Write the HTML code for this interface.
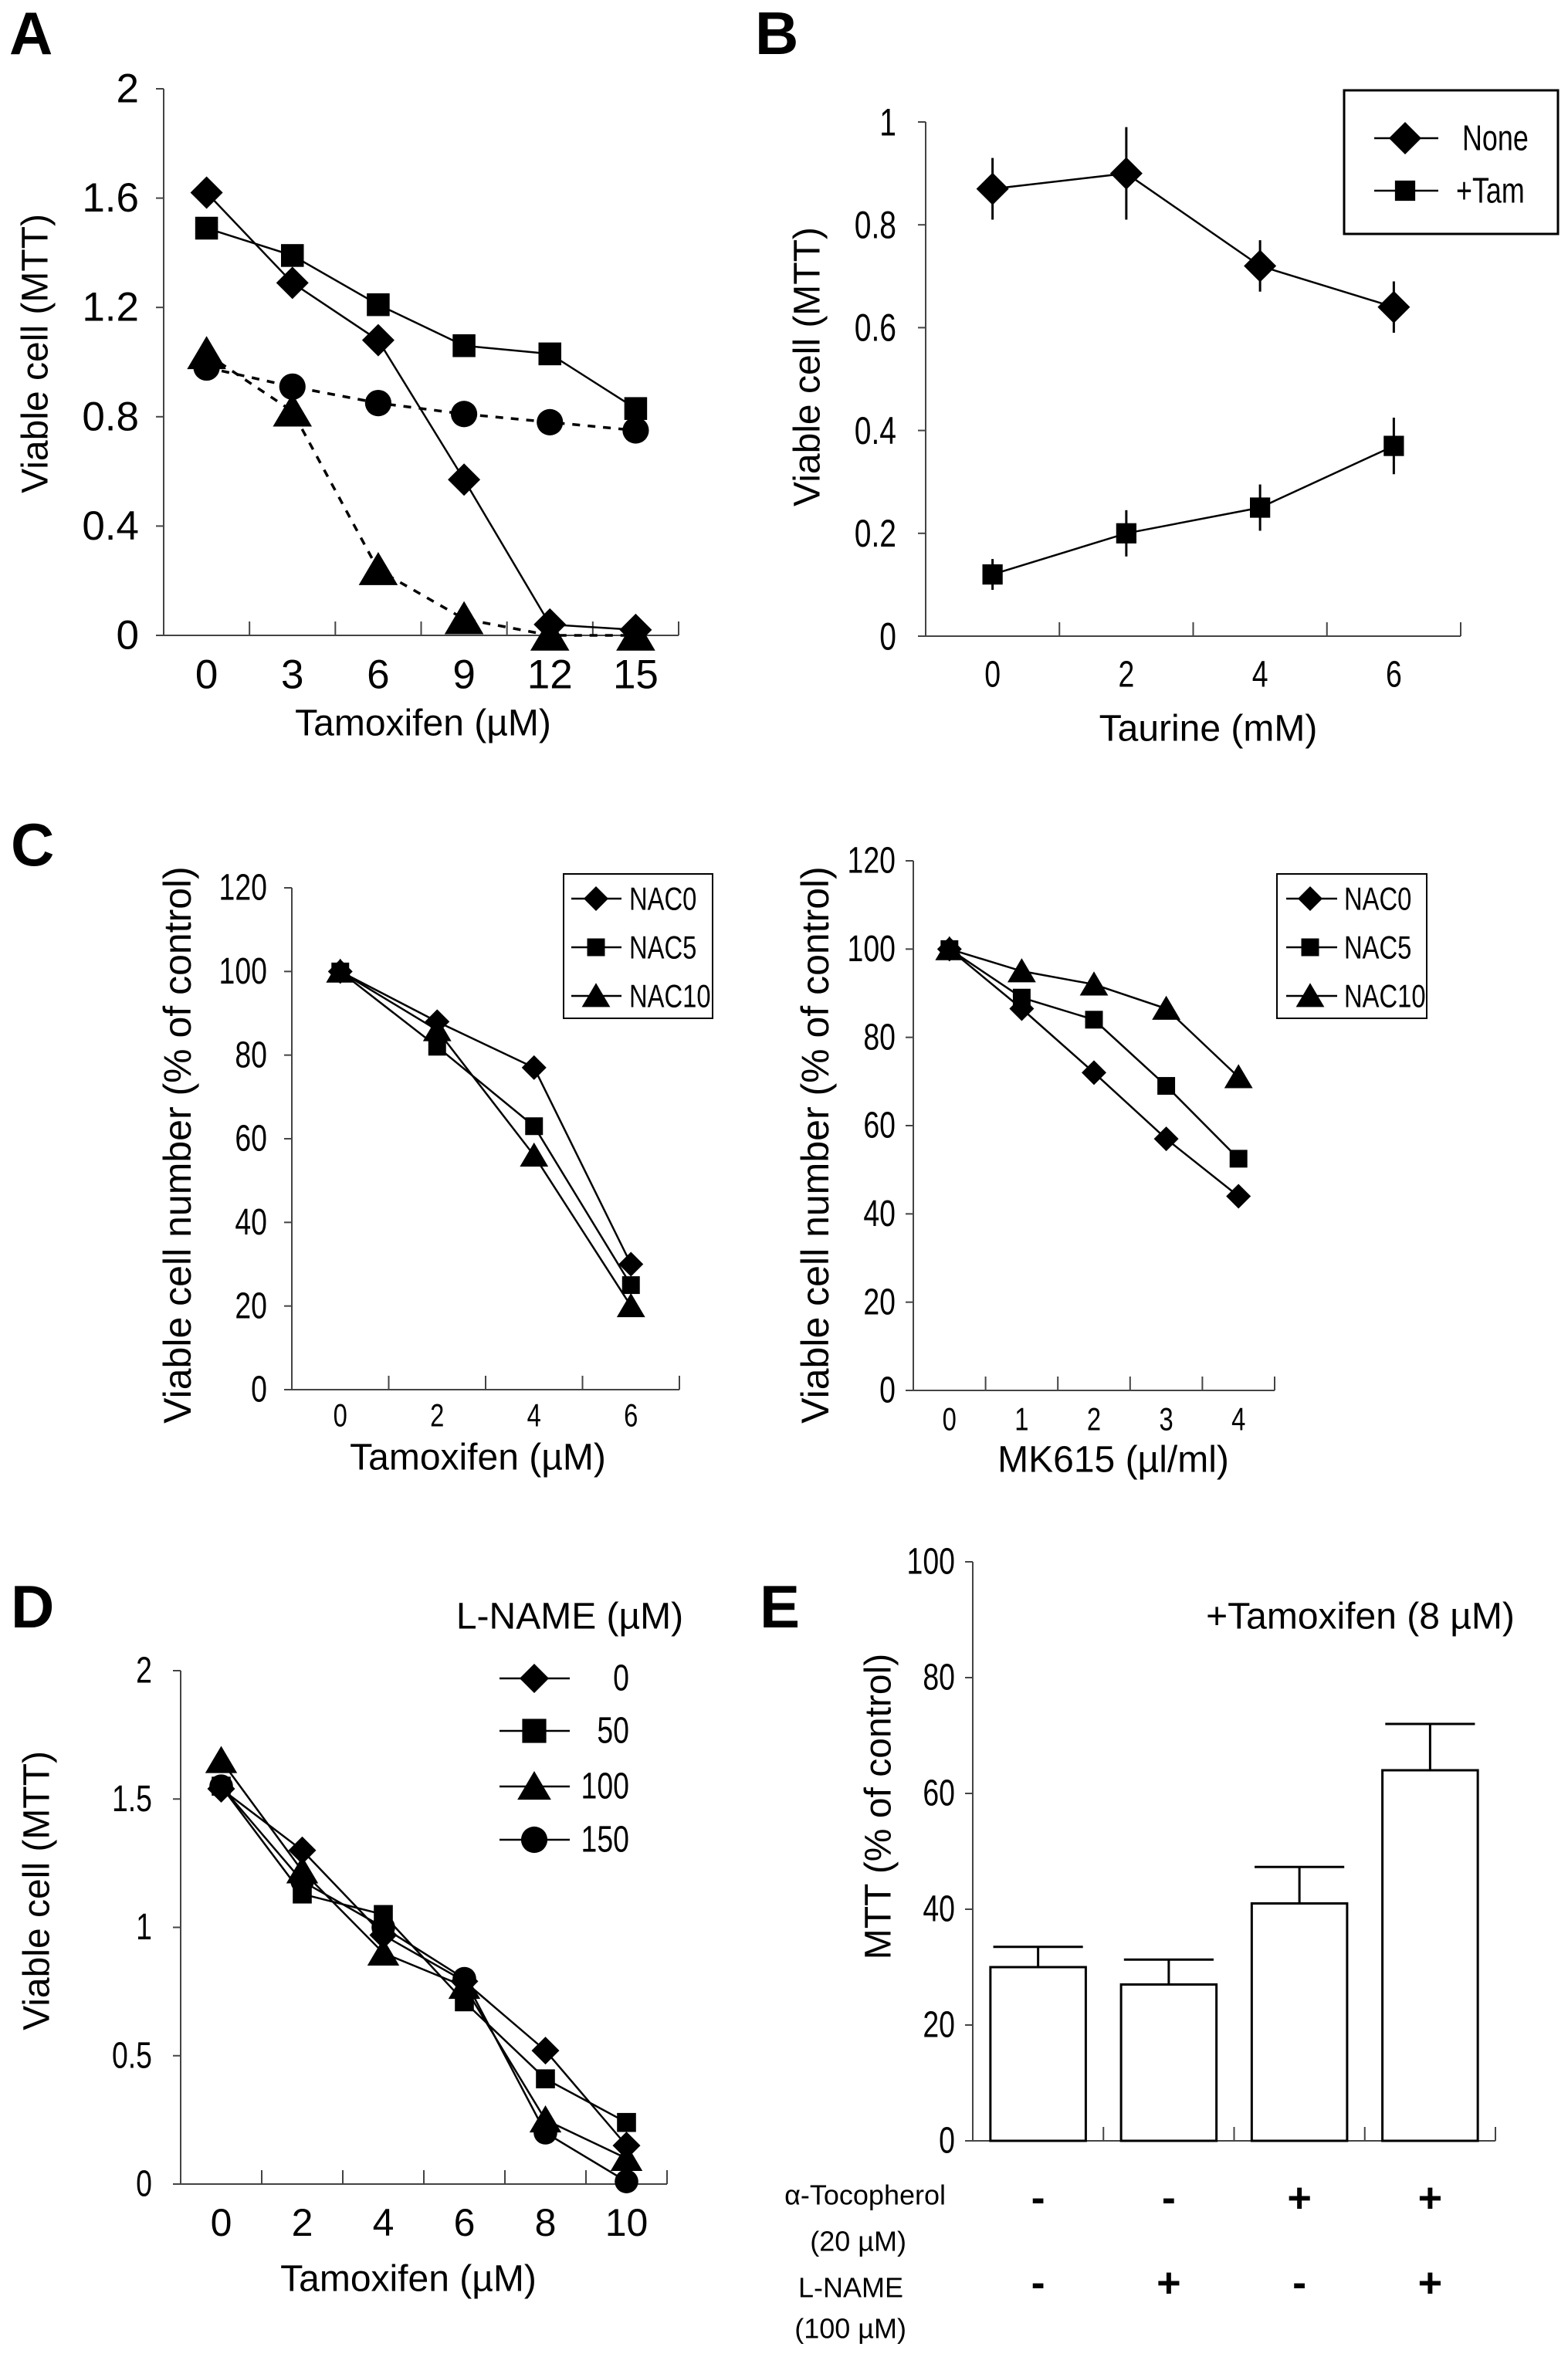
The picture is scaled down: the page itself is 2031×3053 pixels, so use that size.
<!DOCTYPE html>
<html><head><meta charset="utf-8"><style>
html,body{margin:0;padding:0;background:#fff;}
svg{display:block;}
text{font-family:"Liberation Sans",sans-serif;fill:#000;}
</style></head><body>
<svg id="fig" width="2031" height="3053" viewBox="0 0 2031 3053" xmlns="http://www.w3.org/2000/svg"></svg>
<script>
// ---- Panel A data ----
const aCats = ["0","3","6","9","12","15"];
const aDiamond = [1.62,1.29,1.08,0.57,0.04,0.02];
const aSquare = [1.49,1.39,1.21,1.06,1.03,0.83];
const aTriangle = [1.03,0.82,0.24,0.06,0.0,0.0];
const aCircle = [0.98,0.91,0.85,0.81,0.78,0.75];
const aTicks = ["0","0.4","0.8","1.2","1.6","2"];
// ---- Panel B data ----
const bCats = ["0","2","4","6"];
const bNone = [0.87,0.90,0.72,0.64];
const bNoneErr = [0.06,0.09,0.05,0.05];
const bTam = [0.12,0.20,0.25,0.37];
const bTamErr = [0.03,0.045,0.045,0.055];
const bTicks = ["0","0.2","0.4","0.6","0.8","1"];
// ---- Panel C left ----
const cLCats = ["0","2","4","6"];
const cLNac0 = [100,88,77,30];
const cLNac5 = [100,82,63,25];
const cLNac10 = [100,86,56,20];
// ---- Panel C right ----
const cRCats = ["0","1","2","3","4"];
const cRNac0 = [100,86.5,72,57,44];
const cRNac5 = [100,89,84,69,52.5];
const cRNac10 = [100,95,92,86.5,71];
const cTicks = ["0","20","40","60","80","100","120"];
// ---- Panel D ----
const dCats = ["0","2","4","6","8","10"];
const d0 = [1.54,1.30,0.97,0.79,0.52,0.15];
const d50 = [1.55,1.13,1.05,0.71,0.41,0.24];
const d100 = [1.65,1.22,0.90,0.77,0.25,0.10];
const d150 = [1.55,1.18,1.00,0.80,0.20,0.01];
const dTicks = ["0","0.5","1","1.5","2"];
const dLegend = ["0","50","100","150"];
// ---- Panel E ----
const eVals = [30,27,41,64];
const eErr = [3.5,4.3,6.3,8];
const eToco = ["-","-","+","+"];
const eLname = ["-","+","-","+"];
const eTicks = ["0","20","40","60","80","100"];

const NS="http://www.w3.org/2000/svg";
const svg=document.getElementById('fig');
function mk(tag,attrs,parent){const e=document.createElementNS(NS,tag);for(const k in attrs)e.setAttribute(k,attrs[k]);(parent||svg).appendChild(e);return e;}
function txt(s,x,y,size,anchor,cls,extra){const e=mk('text',Object.assign({x:x,y:y,'font-size':size,'text-anchor':anchor||'middle','dominant-baseline':'central'},extra||{}));
 if(cls==='n')e.setAttribute('transform',`translate(${x} ${y}) scale(0.78 1) translate(${-x} ${-y})`);
 e.textContent=s;return e;}
function marker(shape,cx,cy,s){let e;
 if(shape==='diamond')e=mk('polygon',{points:`${cx},${cy-s} ${cx+s},${cy} ${cx},${cy+s} ${cx-s},${cy}`,fill:'#000'});
 else if(shape==='square')e=mk('rect',{x:cx-s*0.82,y:cy-s*0.82,width:s*1.64,height:s*1.64,fill:'#000'});
 else if(shape==='triangle')e=mk('polygon',{points:`${cx},${cy-s*1.05} ${cx+s*1.15},${cy+s*0.9} ${cx-s*1.15},${cy+s*0.9}`,fill:'#000'});
 else e=mk('circle',{cx:cx,cy:cy,r:s*0.9,fill:'#000'});
 return e;}
function axes(g){
 const yOf=v=>g.yBot-(v-g.min)/(g.max-g.min)*(g.yBot-g.yTop);
 const xOf=i=>g.x0+(i+0.5)*(g.xEnd-g.x0)/g.n;
 let e=mk('line',{x1:g.x0,y1:g.yTop,x2:g.x0,y2:g.yBot,stroke:'#444','stroke-width':2});
 
 
 e=mk('line',{x1:g.x0,y1:g.yBot,x2:g.xEnd,y2:g.yBot,stroke:'#444','stroke-width':2});
 
 
 for(let k=1;k<=g.n;k++){const x=g.x0+k*(g.xEnd-g.x0)/g.n;mk('line',{x1:x,y1:g.yBot,x2:x,y2:g.yBot-18,stroke:'#444','stroke-width':2});}
 g.ticks.forEach((t,i)=>{const v=g.min+i*(g.max-g.min)/(g.ticks.length-1);const y=yOf(v);
  mk('line',{x1:g.x0-10,y1:y,x2:g.x0,y2:y,stroke:'#444','stroke-width':2});
  const l=txt(t,g.tickRight,y,g.tickSize,'end',g.tickCls);
  
  });
 if(g.cats)g.cats.forEach((c,i)=>{const l=txt(c,xOf(i),g.catY,g.catSize,'middle',g.catCls);
  
  });
 return {xOf,yOf};}
function series(ax,vals,shape,size,dash,name,errs){
 const pts=vals.map((v,i)=>`${ax.xOf(i)},${ax.yOf(v)}`).join(' ');
 const pl=mk('polyline',{points:pts,fill:'none',stroke:'#000','stroke-width':2.5});
 if(dash){pl.setAttribute('stroke-dasharray','10 10');pl.setAttribute('stroke-width',3.5);}
 
 
 vals.forEach((v,i)=>{
  if(errs){const el=mk('line',{x1:ax.xOf(i),x2:ax.xOf(i),y1:ax.yOf(v-errs[i]),y2:ax.yOf(v+errs[i]),stroke:'#000','stroke-width':3});
   
   }
  const m=marker(shape,ax.xOf(i),ax.yOf(v),size);
  
  });}
function legendEntry(shape,x1,x2,mx,y,size,label,tx,fs,anchor,cls){
 mk('line',{x1:x1,x2:x2,y1:y,y2:y,stroke:'#000','stroke-width':2.5});
 marker(shape,mx,y,size);
 const t=txt(label,tx,y,fs,anchor||'start',cls);
 
 }
function vtitle(s,x,y,size){const t=txt(s,x,y,size,'middle',null,{transform:`rotate(-90 ${x} ${y})`});return t;}
function letter(s,x,y){const t=mk('text',{x:x,y:y,'font-size':78,'font-weight':'bold'});t.textContent=s;
 
 }

// ===== Panel A =====
letter('A',12,70);
let ax=axes({x0:212,xEnd:879,yTop:115,yBot:823,min:0,max:2,n:6,ticks:aTicks,tickSize:53,tickRight:180,cats:aCats,catY:874,catSize:53});
series(ax,aTriangle,'triangle',22,true,'a-triangle');
series(ax,aCircle,'circle',19,true,'a-circle');
series(ax,aDiamond,'diamond',21,false,'a-diamond');
series(ax,aSquare,'square',18,false,'a-square');
let t=vtitle('Viable cell (MTT)',46,458,48);


t=txt('Tamoxifen (µM)',548,937,48);



// ===== Panel B =====
letter('B',978,70);
ax=axes({x0:1199,xEnd:1892,yTop:158,yBot:824,min:0,max:1,n:4,ticks:bTicks,tickCls:'n',tickSize:50,tickRight:1161,cats:bCats,catY:874,catSize:48,catCls:'n'});
series(ax,bNone,'diamond',21,false,'b-none',bNoneErr);
series(ax,bTam,'square',16,false,'b-tam',bTamErr);
let box=mk('rect',{x:1741,y:117,width:277,height:186,fill:'none',stroke:'#000','stroke-width':3});


legendEntry('diamond',1780,1863,1820,179,21,'None',1894,46,'start','n');
legendEntry('square',1780,1863,1820,247,16,'+Tam',1886,46,'start','n');
t=vtitle('Viable cell (MTT)',1046,475,48);


t=txt('Taurine (mM)',1565,944,48);



// ===== Panel C left =====
letter('C',14,1121);
ax=axes({x0:378,xEnd:880,yTop:1150,yBot:1800,min:0,max:120,n:4,ticks:cTicks,tickCls:'n',tickSize:48,tickRight:346,cats:cLCats,catY:1833,catSize:42,catCls:'n'});
series(ax,cLNac10,'triangle',16,false,'cl-nac10');
series(ax,cLNac5,'square',14,false,'cl-nac5');
series(ax,cLNac0,'diamond',16,false,'cl-nac0');
box=mk('rect',{x:730,y:1132,width:193,height:187,fill:'none',stroke:'#000','stroke-width':2});


legendEntry('diamond',740,805,772,1164,16,'NAC0',815,42,'start','n');
legendEntry('square',740,805,772,1227,14,'NAC5',815,42,'start','n');
legendEntry('triangle',740,805,772,1290,16,'NAC10',815,42,'start','n');
t=vtitle('Viable cell number (% of control)',230,1483,50);


t=txt('Tamoxifen (µM)',619,1888,48);



// ===== Panel C right =====
ax=axes({x0:1183,xEnd:1651,yTop:1115,yBot:1801,min:0,max:120,n:5,ticks:cTicks,tickCls:'n',tickSize:48,tickRight:1160,cats:cRCats,catY:1838,catSize:42,catCls:'n'});
series(ax,cRNac10,'triangle',16,false,'cr-nac10');
series(ax,cRNac5,'square',14,false,'cr-nac5');
series(ax,cRNac0,'diamond',16,false,'cr-nac0');
box=mk('rect',{x:1654,y:1132,width:194,height:187,fill:'none',stroke:'#000','stroke-width':2});


legendEntry('diamond',1666,1732,1697,1164,16,'NAC0',1741,42,'start','n');
legendEntry('square',1666,1732,1697,1227,14,'NAC5',1741,42,'start','n');
legendEntry('triangle',1666,1732,1697,1290,16,'NAC10',1741,42,'start','n');
t=vtitle('Viable cell number (% of control)',1056,1483,50);


t=txt('MK615 (µl/ml)',1442,1891,48);



// ===== Panel D =====
letter('D',14,2108);
ax=axes({x0:234,xEnd:864,yTop:2164,yBot:2829,min:0,max:2,n:6,ticks:dTicks,tickCls:'n',tickSize:48,tickRight:197,cats:dCats,catY:2879,catSize:50});
series(ax,d100,'triangle',18,false,'d-100');
series(ax,d150,'circle',17,false,'d-150');
series(ax,d50,'square',15,false,'d-50');
series(ax,d0,'diamond',18,false,'d-0');
t=txt('L-NAME (µM)',738,2094,48);


const dShapes=['diamond','square','triangle','circle'];
const dLy=[2174,2242,2314,2383];
dLegend.forEach((l,i)=>legendEntry(dShapes[i],647,738,692,dLy[i],19,l,815,48,'end','n'));
t=vtitle('Viable cell (MTT)',48,2449,48);


t=txt('Tamoxifen (µM)',529,2952,48);



// ===== Panel E =====
letter('E',984,2108);
ax=axes({x0:1260,xEnd:1937,yTop:2023,yBot:2773,min:0,max:100,n:4,ticks:eTicks,tickCls:'n',tickSize:48,tickRight:1237});
const bw=(1937-1260)/4*0.73;
eVals.forEach((v,i)=>{const cx=ax.xOf(i);
 const top=ax.yOf(v+eErr[i]);
 const eb=mk('line',{x1:cx,x2:cx,y1:ax.yOf(v),y2:top,stroke:'#000','stroke-width':3});
 
 
 const cap=mk('line',{x1:cx-bw*0.47,x2:cx+bw*0.47,y1:top,y2:top,stroke:'#000','stroke-width':3});
 
 
 const r=mk('rect',{x:cx-bw/2,y:ax.yOf(v),width:bw,height:ax.yOf(0)-ax.yOf(v),fill:'#fff',stroke:'#000','stroke-width':3});
 
 
 const s1=txt(eToco[i],cx,2847,54,'middle',null,{'font-weight':'bold'});
 
 
 const s2=txt(eLname[i],cx,2957,54,'middle',null,{'font-weight':'bold'});
 
 });
t=txt('+Tamoxifen (8 µM)',1762,2094,48);


t=vtitle('MTT (% of control)',1138,2340,48);


[['α-Tocopherol',1225,2843],['(20 µM)',1174,2903],['L-NAME',1170,2963],['(100 µM)',1174,3016]].forEach(r=>{
 const l=txt(r[0],r[1],r[2],36,'end');
 
 });
</script>
</body></html>
